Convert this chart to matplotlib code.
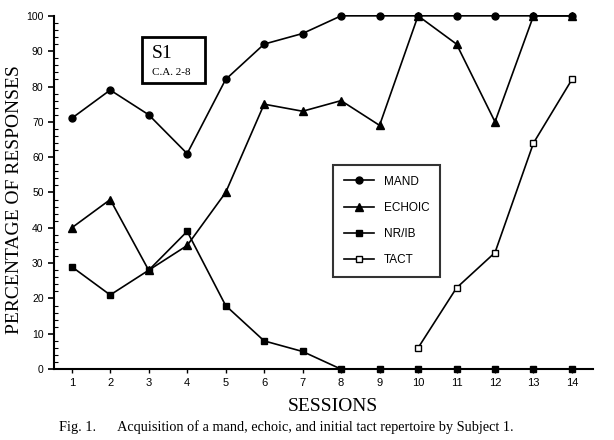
import matplotlib.pyplot as plt
from matplotlib.patches import Rectangle
from matplotlib.ticker import MultipleLocator

# ---------------------------
# DATA
# ---------------------------
sessions = list(range(1, 15))
mand = [71, 79, 72, 61, 82, 92, 95, 100, 100, 100, 100, 100, 100, 100]
echoic = [40, 48, 28, 35, 50, 75, 73, 76, 69, 100, 92, 70, 100, 100]
nrib = [29, 21, 28, 39, 18, 8, 5, 0, 0, 0, 0, 0, 0, 0]
tact_sessions = [10, 11, 12, 13, 14]
tact = [6, 23, 33, 64, 82]

serif = ["Liberation Serif", "DejaVu Serif"]
sans = ["Liberation Sans", "DejaVu Sans"]

fig = plt.figure(figsize=(6.14, 4.4), dpi=100)
ax = fig.add_axes([0.088, 0.161, 0.878, 0.803])

style = dict(color="black", lw=1.2, clip_on=False, zorder=3)
ax.plot(sessions, mand, marker="o", ms=5, label="MAND", **style)
ax.plot(sessions, echoic, marker="^", ms=5.5, label="ECHOIC", **style)
ax.plot(sessions, nrib, marker="s", ms=5, label="NR/IB", **style)
ax.plot(tact_sessions, tact, marker="s", ms=5, mfc="white", mew=1.0,
        label="TACT", **style)

ax.set_xlim(0.54, 14.55)
ax.set_ylim(0, 100)
ax.set_xticks(sessions)
ax.yaxis.set_major_locator(MultipleLocator(10))
ax.yaxis.set_minor_locator(MultipleLocator(2))
ax.tick_params(axis="y", which="major", direction="out", length=4, width=1.2,
               labelsize=7.5)
ax.tick_params(axis="y", which="minor", direction="in", length=3, width=0.8)
ax.tick_params(axis="x", direction="out", length=3, width=1.0, labelsize=8)
for lab in ax.get_xticklabels() + ax.get_yticklabels():
    lab.set_family(sans)

for s in ["top", "right"]:
    ax.spines[s].set_visible(False)
for s in ["left", "bottom"]:
    ax.spines[s].set_linewidth(1.5)

fig.text(333 / 614, 1 - 411 / 440, "SESSIONS", family=serif, fontsize=14,
         ha="center", va="baseline")
fig.text(15 / 614, 1 - 200 / 440, "PERCENTAGE OF RESPONSES", family=serif,
         fontsize=14, rotation=90, ha="center", va="center")

leg = ax.legend(loc="upper left", bbox_to_anchor=(333 / 614, 1 - 165 / 440),
                bbox_transform=fig.transFigure, frameon=True, fancybox=False,
                prop={"family": sans, "size": 8.5}, labelspacing=1.2,
                handlelength=2.6, borderpad=0.9, handletextpad=0.8,
                borderaxespad=0)
leg.get_frame().set_edgecolor("black")
leg.get_frame().set_linewidth(1.5)

# S1 box
fig.patches.append(Rectangle((142 / 614, 1 - 83 / 440), 63 / 614, 46 / 440,
                             transform=fig.transFigure, fill=False,
                             ec="black", lw=2))
fig.text(152 / 614, 1 - 58 / 440, "S1", family=serif, fontsize=14,
         va="baseline")
fig.text(152 / 614, 1 - 75 / 440, "C.A. 2-8", family=serif, fontsize=8,
         va="baseline")

fig.text(59 / 614, 1 - 431 / 440,
         "Fig. 1.      Acquisition of a mand, echoic, and initial tact repertoire by Subject 1.",
         family=serif, fontsize=10.3, ha="left", va="baseline")

fig.savefig("out.png", dpi=100)
